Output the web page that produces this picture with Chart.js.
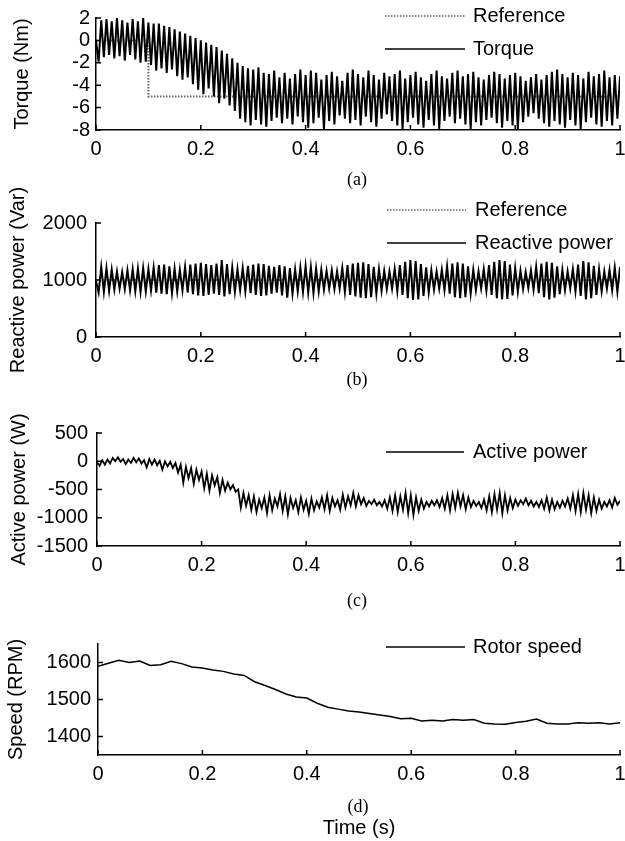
<!DOCTYPE html>
<html lang="en">
<head>
<meta charset="UTF-8">
<title>Torque, reactive power, active power and rotor speed</title>
<script src="https://cdn.jsdelivr.net/npm/chart.js"></script>
<style>
  body { margin: 0; background: #fff; }
  #page { position: relative; width: 625px; height: 841px; overflow: hidden; font-family: Arial, "Liberation Sans", sans-serif; }
  #page canvas { position: absolute; left: 0; }
  .cap { position: absolute; transform: translate(-50%, -50%); white-space: nowrap; color: #000; }
  .sub { font-family: "Times New Roman", "Liberation Serif", serif; font-size: 18px; }
  .xlab { font-size: 20px; }
</style>
</head>
<body>
<div id="page">
  <canvas id="cA" width="660" height="165" style="top:0px"></canvas>
  <canvas id="cB" width="660" height="197" style="top:180px"></canvas>
  <canvas id="cC" width="660" height="176" style="top:405px"></canvas>
  <canvas id="cD" width="660" height="165" style="top:625px"></canvas>
  <div class="cap sub" style="left:357px; top:179px">(a)</div>
  <div class="cap sub" style="left:357px; top:379px">(b)</div>
  <div class="cap sub" style="left:357px; top:600px">(c)</div>
  <div class="cap sub" style="left:358px; top:806px">(d)</div>
  <div class="cap xlab" style="left:359px; top:827px">Time (s)</div>
</div>

<script>
// x axis ticks shared by all four panels
const xTicks = [0, 0.2, 0.4, 0.6, 0.8, 1];

const torqueStep = 0.005;
const torque = [
  0, -1.9, 1.8, -1.5, 1.9, -1.3, 1.7, -1.6, 2.0, -1.4, 1.8, -1.8, 1.6, -1.3, 1.9, -1.7, 1.7, -2.0, 2.0, -1.9,
  1.6, -2.2, 1.5, -2.7, 1.5, -2.5, 1.3, -2.9, 1.2, -2.6, 1.0, -3.2, 0.8, -3.5, 0.6, -3.3, 0.4, -3.9, 0.2, -4.4,
  0.0, -4.8, -0.2, -4.3, -0.4, -5.0, -0.6, -5.6, -0.9, -5.2, -1.2, -5.8, -1.6, -6.3, -2.0, -7.0, -2.3, -7.3, -2.5, -7.6,
  -2.6, -7.1, -2.4, -7.5, -2.9, -7.7, -3.0, -7.2, -2.7, -6.9, -3.3, -7.4, -2.9, -7.0, -3.4, -7.5, -3.0, -6.8, -2.6, -7.3,
  -3.1, -7.8, -2.7, -7.4, -2.9, -6.9, -3.5, -7.9, -3.1, -7.2, -2.8, -7.5, -3.2, -6.7, -3.6, -7.0, -2.9, -7.4, -2.6, -7.1,
  -3.0, -7.6, -3.3, -6.8, -2.7, -7.3, -3.1, -7.7, -3.5, -7.0, -2.9, -6.6, -3.2, -7.2, -3.0, -7.6, -2.7, -7.9, -3.4, -7.3,
  -3.1, -6.9, -2.8, -7.5, -3.3, -7.8, -3.6, -7.1, -3.0, -7.6, -2.7, -7.9, -3.2, -7.2, -3.4, -6.8, -2.9, -7.4, -2.7, -7.0,
  -3.2, -7.5, -3.0, -7.9, -2.8, -7.3, -3.3, -7.6, -3.5, -7.1, -3.1, -6.9, -2.8, -7.4, -3.0, -7.8, -3.4, -7.2, -3.1, -7.6,
  -2.9, -7.9, -3.2, -7.3, -3.6, -6.8, -3.3, -6.5, -3.0, -7.0, -3.5, -7.4, -3.1, -7.7, -2.8, -7.2, -2.6, -7.5, -3.0, -7.8,
  -3.3, -7.1, -2.9, -7.6, -3.1, -7.9, -3.4, -7.3, -2.8, -6.9, -3.2, -7.5, -3.0, -7.7, -2.7, -7.2, -3.3, -7.6, -3.1, -7.0,
  -3.2
];
// torque reference: 0 Nm, step to -5 Nm at 0.1 s
const refTorqueT = [0, 0.1, 0.1, 1];
const refTorque = [0, 0, -5, -5];

// (b) reactive power (Var), every 5 ms
const reactive = [
  980, 780, 1230, 790, 1210, 810, 1180, 830, 1150, 850, 1140, 840, 1170, 820, 1190, 800, 1200, 790, 1210, 800,
  1190, 820, 1220, 780, 1260, 760, 1270, 750, 1240, 770, 1200, 800, 1180, 820, 1230, 780, 1270, 750, 1290, 730,
  1300, 720, 1280, 740, 1260, 760, 1290, 740, 1350, 710, 1280, 750, 1220, 790, 1190, 820, 1210, 800, 1250, 770,
  1270, 740, 1290, 720, 1280, 730, 1250, 760, 1230, 780, 1260, 730, 1240, 690, 1210, 760, 1190, 800, 1220, 790,
  1240, 780, 1230, 770, 1200, 800, 1180, 830, 1160, 850, 1170, 840, 1150, 850, 1210, 790, 1260, 740, 1290, 710,
  1300, 690, 1310, 680, 1280, 700, 1230, 760, 1190, 810, 1160, 840, 1150, 850, 1200, 800, 1260, 740, 1320, 680,
  1350, 650, 1330, 660, 1280, 720, 1220, 780, 1170, 830, 1150, 850, 1180, 820, 1240, 760, 1290, 700, 1310, 680,
  1290, 700, 1240, 760, 1180, 820, 1150, 850, 1190, 810, 1260, 740, 1320, 680, 1350, 660, 1330, 670, 1270, 730,
  1210, 790, 1160, 840, 1140, 860, 1170, 830, 1230, 770, 1290, 700, 1320, 660, 1300, 690, 1240, 750, 1180, 820,
  1150, 850, 1190, 800, 1270, 720, 1330, 660, 1310, 680, 1250, 740, 1190, 800, 1150, 850, 1180, 820, 1220, 790,
  1230
];
const refReactiveT = [0, 1];
const refReactive = [1000, 1000];

// (c) active power (W), every 5 ms
const active = [
  -20, -80, 20, -60, 30, -40, 60, 0, 70, -10, 40, -50, 30, -30, 60, -20, 50, -40, 20, -110,
  40, -60, 30, -70, 10, -150, 0, -90, -10, -120, -30, -200, -60, -380, -100, -300, -120, -400, -150, -330,
  -180, -480, -220, -520, -250, -430, -280, -560, -330, -520, -380, -500, -420, -540, -500, -820, -560, -790, -600, -860,
  -620, -900, -680, -830, -640, -920, -600, -870, -660, -800, -580, -880, -620, -940, -650, -830, -690, -900, -640, -860,
  -700, -930, -660, -870, -710, -820, -640, -850, -600, -880, -650, -800, -690, -860, -590, -820, -620, -780, -560, -800,
  -600, -760, -650, -790, -700, -760, -680, -780, -720, -800, -690, -840, -640, -880, -600, -900, -620, -860, -560, -920,
  -600, -950, -640, -880, -680, -840, -720, -800, -700, -780, -690, -810, -650, -840, -600, -870, -580, -830, -560, -800,
  -600, -850, -640, -810, -700, -790, -720, -830, -680, -870, -620, -900, -580, -860, -560, -920, -600, -870, -650, -830,
  -680, -790, -690, -760, -660, -780, -700, -800, -720, -810, -690, -840, -640, -870, -680, -850, -720, -820, -700, -800,
  -660, -840, -600, -880, -580, -900, -560, -860, -600, -920, -640, -880, -680, -840, -720, -800, -690, -820, -650, -770,
  -700
];

// (d) rotor speed (RPM), every 20 ms
const speedStep = 0.02;
const speed = [
  1590, 1598, 1606, 1600, 1604, 1592, 1594, 1603, 1597, 1588,
  1585, 1580, 1576, 1569, 1565, 1548, 1538, 1527, 1515, 1507,
  1504, 1490, 1479, 1474, 1469, 1466, 1462, 1458, 1454, 1448,
  1449, 1442, 1444, 1442, 1446, 1444, 1446, 1436, 1434, 1433,
  1438, 1441, 1447, 1436, 1434, 1434, 1437, 1436, 1437, 1434,
  1437
];

Chart.defaults.font.family = 'Arial, "Liberation Sans", sans-serif';
Chart.defaults.font.size = 20;
Chart.defaults.color = '#000';

function pts(values, step) {
  return values.map((v, i) => ({ x: i * step, y: v }));
}
function pairs(xs, ys) {
  return xs.map((x, i) => ({ x: x, y: ys[i] }));
}

// inward tick marks like the original axes
const innerTicks = {
  id: 'innerTicks',
  afterDraw(chart) {
    const { ctx, chartArea: a, scales: { x, y } } = chart;
    ctx.save();
    ctx.strokeStyle = '#000';
    ctx.lineWidth = 1.5;
    ctx.beginPath();
    x.ticks.forEach(t => {
      const px = x.getPixelForValue(t.value);
      ctx.moveTo(px, a.bottom);
      ctx.lineTo(px, a.bottom - 5);
    });
    y.ticks.forEach(t => {
      const py = y.getPixelForValue(t.value);
      ctx.moveTo(a.left, py);
      ctx.lineTo(a.left + 5, py);
    });
    ctx.stroke();
    ctx.restore();
  }
};

// legend drawn inside the plot, upper right
function boxLegend(pos) {
  return {
    id: 'boxLegend',
    afterDraw(chart) {
      const ctx = chart.ctx;
      ctx.save();
      ctx.font = '20px Arial, "Liberation Sans", sans-serif';
      ctx.textBaseline = 'middle';
      ctx.fillStyle = '#000';
      chart.data.datasets.forEach((ds, i) => {
        const y = pos.ys[i];
        ctx.strokeStyle = ds.borderColor;
        ctx.lineWidth = Math.min(ds.borderWidth, 1.5);
        ctx.setLineDash(ds.borderDash || []);
        ctx.beginPath();
        ctx.moveTo(pos.x1, y);
        ctx.lineTo(pos.x2, y);
        ctx.stroke();
        ctx.setLineDash([]);
        ctx.fillText(ds.label, pos.textX, y);
      });
      ctx.restore();
    }
  };
}

function refSet(label, data) {
  return { label: label, data: data, borderColor: '#666', borderWidth: 2, borderDash: [1.5, 1.5], order: 2 };
}
function mainSet(label, data, width) {
  return { label: label, data: data, borderColor: '#000', borderWidth: width, order: 1 };
}

function makePanel(id, p) {
  new Chart(document.getElementById(id), {
    type: 'line',
    data: { datasets: p.datasets },
    options: {
      responsive: false,
      animation: false,
      events: [],
      layout: { padding: { top: p.padTop, right: 40, bottom: 0, left: 0 } },
      elements: { point: { radius: 0 }, line: { tension: 0 } },
      plugins: { legend: { display: false }, tooltip: { enabled: false } },
      scales: {
        x: {
          type: 'linear', min: 0, max: 1,
          grid: { display: false, drawTicks: false },
          border: { color: '#000', width: 1.5 },
          ticks: { padding: 7, autoSkip: false, maxRotation: 0, callback: v => String(v) },
          afterBuildTicks: s => { s.ticks = xTicks.map(v => ({ value: v })); },
          afterFit: s => { s.height = p.xHeight; }
        },
        y: {
          type: 'linear', min: p.yMin, max: p.yMax,
          grid: { display: false, drawTicks: false },
          border: { color: '#000', width: 1.5 },
          ticks: { padding: p.tickPad, autoSkip: false, callback: v => String(v) },
          afterBuildTicks: s => { s.ticks = p.yTicks.map(v => ({ value: v })); },
          afterFit: s => { s.width = p.left; },
          title: { display: true, text: p.yTitle, font: { size: 20 }, padding: { top: p.titleX - 12, bottom: 0 } }
        }
      }
    },
    plugins: [innerTicks, boxLegend(p.legend)]
  });
}

makePanel('cA', {
  padTop: 15, xHeight: 35, left: 96, tickPad: 6, titleX: 22,
  yMin: -8, yMax: 2, yTicks: [-8, -6, -4, -2, 0, 2], yTitle: 'Torque (Nm)',
  legend: { x1: 385, x2: 465, textX: 473, ys: [16, 49] },
  datasets: [refSet('Reference', pairs(refTorqueT, refTorque)), mainSet('Torque', pts(torque, torqueStep), 2)]
});

makePanel('cB', {
  padTop: 43, xHeight: 40, left: 96, tickPad: 9, titleX: 18,
  yMin: 0, yMax: 2000, yTicks: [0, 1000, 2000], yTitle: 'Reactive power (Var)',
  legend: { x1: 387, x2: 466, textX: 475, ys: [30, 63] },
  datasets: [refSet('Reference', pairs(refReactiveT, refReactive)), mainSet('Reactive power', pts(reactive, torqueStep), 2)]
});

makePanel('cC', {
  padTop: 28, xHeight: 35, left: 97, tickPad: 9, titleX: 19,
  yMin: -1500, yMax: 500, yTicks: [-1500, -1000, -500, 0, 500], yTitle: 'Active power (W)',
  legend: { x1: 386, x2: 464, textX: 473, ys: [47] },
  datasets: [mainSet('Active power', pts(active, torqueStep), 1.8)]
});

makePanel('cD', {
  padTop: 16, xHeight: 35, left: 98, tickPad: 7, titleX: 16,
  yMin: 1350, yMax: 1650, yTicks: [1400, 1500, 1600], yTitle: 'Speed (RPM)',
  legend: { x1: 386, x2: 465, textX: 473, ys: [22] },
  datasets: [mainSet('Rotor speed', pts(speed, speedStep), 1.5)]
});
</script>
</body>
</html>
